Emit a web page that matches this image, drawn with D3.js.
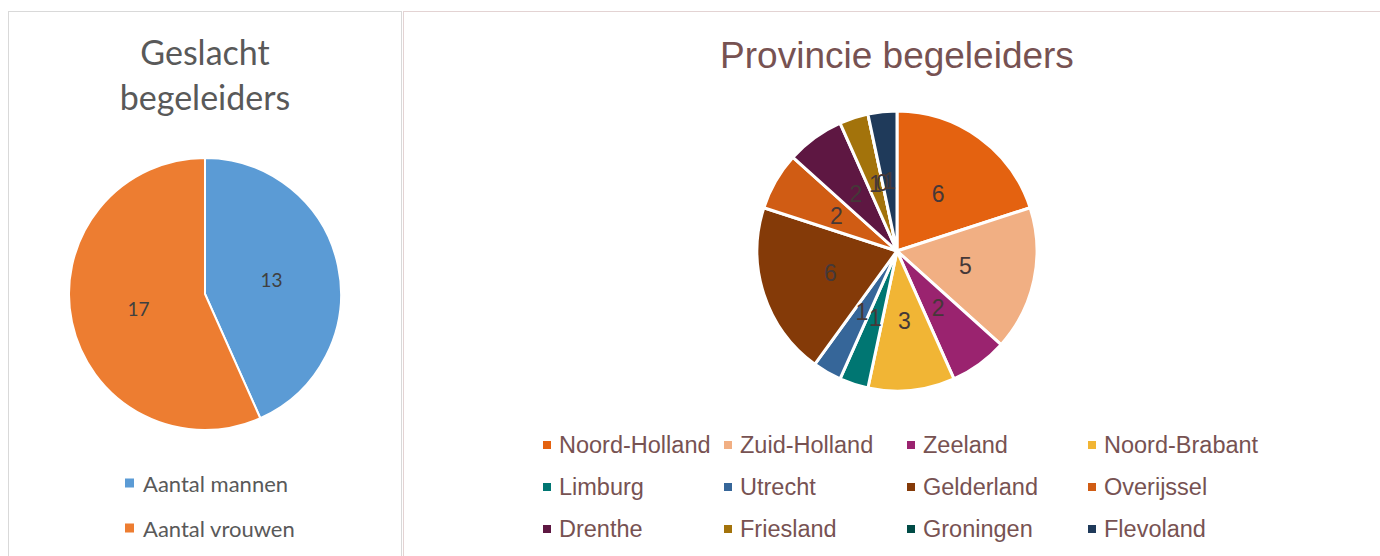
<!DOCTYPE html>
<html>
<head>
<meta charset="utf-8">
<script src="https://cdn.jsdelivr.net/npm/d3@7"></script>
<style>
  body { margin: 0; background: #fff; }
  svg { display: block; }
</style>
</head>
<body>
<svg id="chart" width="1380" height="556"></svg>
<script>
  'use strict';

  // gender chart
  var genderLabels = ['Aantal mannen', 'Aantal vrouwen'],
    genderValues = [13, 17],
    genderColors = ['#5B9BD5', '#ED7D31'];

  // province chart
  var provinces = ['Noord-Holland', 'Zuid-Holland', 'Zeeland', 'Noord-Brabant',
      'Limburg', 'Utrecht', 'Gelderland', 'Overijssel',
      'Drenthe', 'Friesland', 'Groningen', 'Flevoland'],
    provinceValues = [6, 5, 2, 3, 1, 1, 6, 2, 2, 1, 0, 1],
    provinceColors = ['#E46210', '#F1AF83', '#9A236F', '#F1B535',
      '#007672', '#366699', '#843A08', '#D05C14',
      '#5E1742', '#A3730B', '#004B46', '#1F3A5A'];

  var svg = d3.select('#chart');

  // panel borders
  svg.append('rect')
    .attr('x', 8.5).attr('y', 11.5)
    .attr('width', 393).attr('height', 560)
    .attr('fill', 'none').attr('stroke', '#d9d9d9');
  svg.append('rect')
    .attr('x', 403.5).attr('y', 11.5)
    .attr('width', 1000).attr('height', 560)
    .attr('fill', 'none').attr('stroke', '#e3d3d3');

  var pie = d3.pie().sort(null);

  // ---- left: Geslacht begeleiders
  var left = svg.append('g'),
    lcx = 205, lcy = 294, lr = 136;

  left.append('text')
    .attr('x', lcx).attr('y', 65)
    .attr('text-anchor', 'middle')
    .attr('font-family', 'Lato, sans-serif')
    .attr('font-size', 34)
    .attr('fill', '#595959')
    .selectAll('tspan')
    .data(['Geslacht', 'begeleiders'])
    .enter().append('tspan')
    .attr('x', lcx)
    .attr('dy', function (d, i) { return i ? 45 : 0; })
    .text(function (d) { return d; });

  var lArc = d3.arc().innerRadius(0).outerRadius(lr),
    lLabelArc = d3.arc().innerRadius(lr * 0.5).outerRadius(lr * 0.5),
    lPie = pie(genderValues),
    lg = left.append('g').attr('transform', 'translate(' + lcx + ',' + lcy + ')');

  lg.selectAll('path').data(lPie).enter().append('path')
    .attr('d', lArc)
    .attr('fill', function (d, i) { return genderColors[i]; })
    .attr('stroke', '#fff')
    .attr('stroke-width', 2);

  lg.selectAll('text').data(lPie).enter().append('text')
    .attr('transform', function (d) { return 'translate(' + lLabelArc.centroid(d) + ')'; })
    .attr('text-anchor', 'middle')
    .attr('dominant-baseline', 'central')
    .attr('font-family', 'Lato, sans-serif')
    .attr('font-size', 19)
    .attr('fill', '#404040')
    .text(function (d) { return d.data; });

  var lLegend = left.selectAll('g.leg').data(genderLabels).enter().append('g')
    .attr('class', 'leg')
    .attr('transform', function (d, i) { return 'translate(125,' + (483 + i * 45) + ')'; });
  lLegend.append('rect')
    .attr('x', 0).attr('y', -4.5).attr('width', 9).attr('height', 9)
    .attr('fill', function (d, i) { return genderColors[i]; });
  lLegend.append('text')
    .attr('x', 18).attr('dominant-baseline', 'central')
    .attr('font-family', 'Lato, sans-serif')
    .attr('font-size', 22)
    .attr('fill', '#595959')
    .text(function (d) { return d; });

  // ---- right: Provincie begeleiders
  var right = svg.append('g'),
    rcx = 897, rcy = 251, rr = 140;

  right.append('text')
    .attr('x', rcx).attr('y', 68)
    .attr('text-anchor', 'middle')
    .attr('font-family', 'Liberation Sans, Arial, sans-serif')
    .attr('font-size', 37)
    .attr('fill', '#775252')
    .text('Provincie begeleiders');

  var rArc = d3.arc().innerRadius(0).outerRadius(rr),
    rLabelArc = d3.arc().innerRadius(rr * 0.5).outerRadius(rr * 0.5),
    rPie = pie(provinceValues),
    rg = right.append('g').attr('transform', 'translate(' + rcx + ',' + rcy + ')');

  rg.selectAll('path').data(rPie).enter().append('path')
    .attr('d', rArc)
    .attr('fill', function (d, i) { return provinceColors[i]; })
    .attr('stroke', '#fff')
    .attr('stroke-width', 3)
    .attr('stroke-linejoin', 'round');

  rg.selectAll('text').data(rPie).enter().append('text')
    .attr('transform', function (d) { return 'translate(' + rLabelArc.centroid(d) + ')'; })
    .attr('text-anchor', 'middle')
    .attr('dominant-baseline', 'central')
    .attr('font-family', 'Liberation Sans, Arial, sans-serif')
    .attr('font-size', 23)
    .attr('fill', '#453838')
    .text(function (d) { return d.data; });

  var colX = [543, 724, 907, 1088],
    rowY = [445, 487, 529];

  var rLegend = right.selectAll('g.leg').data(provinces).enter().append('g')
    .attr('class', 'leg')
    .attr('transform', function (d, i) {
      return 'translate(' + colX[i % 4] + ',' + rowY[Math.floor(i / 4)] + ')';
    });
  rLegend.append('rect')
    .attr('x', 0).attr('y', -4).attr('width', 8).attr('height', 8)
    .attr('fill', function (d, i) { return provinceColors[i]; });
  rLegend.append('text')
    .attr('x', 16).attr('dominant-baseline', 'central')
    .attr('font-family', 'Liberation Sans, Arial, sans-serif')
    .attr('font-size', 23.5)
    .attr('fill', '#775252')
    .text(function (d) { return d; });
</script>
</body>
</html>
